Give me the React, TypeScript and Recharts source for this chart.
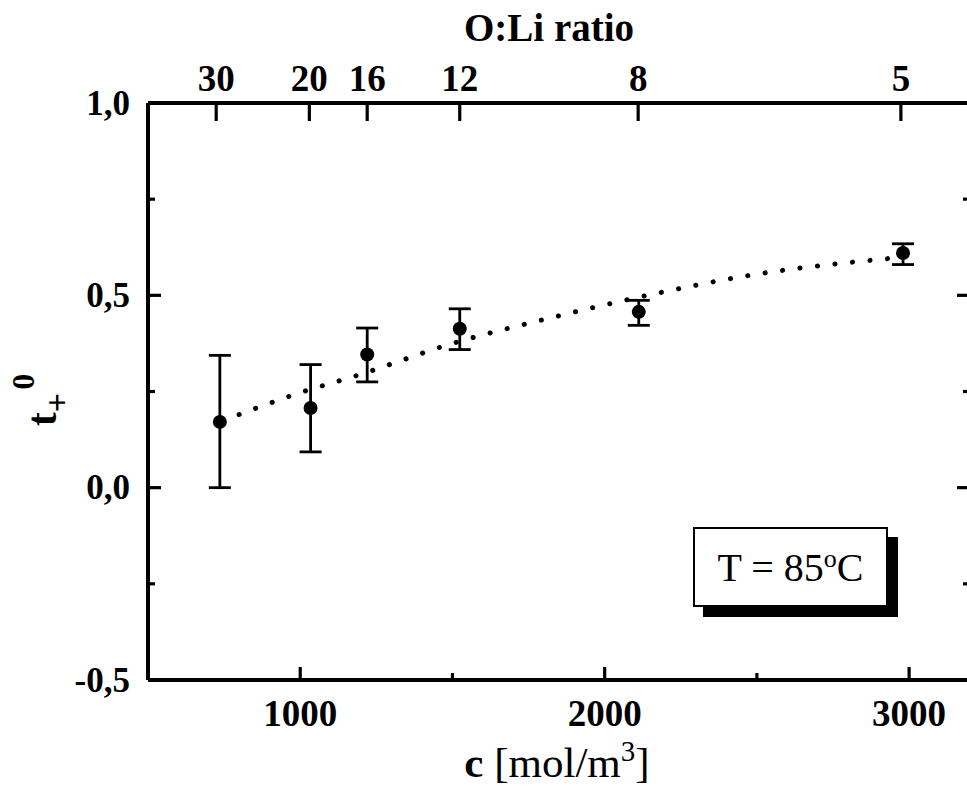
import React from 'react';
import { ComposedChart, Scatter, Line, XAxis, YAxis, ErrorBar } from 'recharts';

// measured points: concentration c [mol/m3] vs t+0
const concentration = [736, 1034, 1220, 1524, 2112, 2980];
const tPlus = [0.171, 0.207, 0.346, 0.413, 0.457, 0.61];
const errTop = [0.344, 0.32, 0.415, 0.465, 0.487, 0.634];
const errBottom = [0.0, 0.093, 0.275, 0.359, 0.422, 0.58];

// dotted fit curve
const fitC = [745, 1000, 1200, 1500, 1800, 2100, 2500, 2950];
const fitT = [0.174, 0.247, 0.295, 0.375, 0.437, 0.493, 0.555, 0.597];

// axes
const yTicks = [-0.5, -0.25, 0, 0.25, 0.5, 0.75, 1.0];
const yLabelTicks = [-0.5, 0, 0.5, 1.0];
const cTicks = [1000, 1500, 2000, 2500, 3000];
const cLabelTicks = [1000, 2000, 3000];
const ratioTickC = [724, 1030, 1220, 1524, 2110, 2973];
const ratioLabels = ['30', '20', '16', '12', '8', '5'];

const FONT = '"Liberation Serif", "Times New Roman", serif';
const AXIS_W = 4;

const points = concentration.map((c, i) => ({
  c,
  t: tPlus[i],
  err: [tPlus[i] - errBottom[i], errTop[i] - tPlus[i]],
}));
const fitData = fitC.map((c, i) => ({ c, t: fitT[i] }));

const fmt = (v: number) => v.toFixed(1).replace('.', ',');

const LeftTick = ({ x, y, payload }: any) => {
  const major = yLabelTicks.includes(payload.value);
  return (
    <g>
      <line x1={x} x2={x + (major ? 13 : 7)} y1={y} y2={y} stroke="#000" strokeWidth={3.2} />
      {major && (
        <text x={x - 18} y={y} textAnchor="end" dominantBaseline="central"
          fontFamily={FONT} fontWeight="bold" fontSize={35} fill="#000">
          {fmt(payload.value)}
        </text>
      )}
    </g>
  );
};

const RightTick = ({ x, y, payload }: any) => {
  const major = yLabelTicks.includes(payload.value);
  return <line x1={x} x2={x - (major ? 13 : 7)} y1={y} y2={y} stroke="#000" strokeWidth={3.2} />;
};

const BottomTick = ({ x, y, payload }: any) => {
  const major = cLabelTicks.includes(payload.value);
  return (
    <g>
      <line x1={x} x2={x} y1={y} y2={y - (major ? 13 : 7)} stroke="#000" strokeWidth={3.2} />
      {major && (
        <text x={x} y={y + 33} textAnchor="middle" dominantBaseline="central"
          fontFamily={FONT} fontWeight="bold" fontSize={37} fill="#000">
          {payload.value}
        </text>
      )}
    </g>
  );
};

const TopTick = ({ x, y, payload }: any) => {
  const label = ratioLabels[ratioTickC.indexOf(payload.value)];
  return (
    <g>
      <line x1={x} x2={x} y1={y} y2={y + 18} stroke="#000" strokeWidth={3.2} />
      <text x={x} y={y - 25} textAnchor="middle" dominantBaseline="central"
        fontFamily={FONT} fontWeight="bold" fontSize={37} fill="#000">
        {label}
      </text>
    </g>
  );
};

const Dot = ({ cx, cy }: any) => <circle cx={cx} cy={cy} r={7} fill="#000" />;

const App: React.FC = () => {
  return (
    <div style={{ position: 'absolute', left: 0, top: 0, width: 967, height: 790, overflow: 'hidden', background: '#fff', fontFamily: FONT }}>
      <ComposedChart width={980} height={790} margin={{ top: 102, right: 9, bottom: 109, left: 147 }}>
        <XAxis xAxisId="bottom" dataKey="c" type="number" domain={[500, 3200]} allowDataOverflow
          ticks={cTicks} interval={0} height={1} tickSize={0} tickMargin={0} tickLine={false}
          axisLine={{ stroke: '#000', strokeWidth: AXIS_W }} tick={<BottomTick />} />
        <XAxis xAxisId="top" orientation="top" dataKey="c" type="number" domain={[500, 3200]} allowDataOverflow
          ticks={ratioTickC} interval={0} height={1} tickSize={0} tickMargin={0} tickLine={false}
          axisLine={{ stroke: '#000', strokeWidth: AXIS_W }} tick={<TopTick />} />
        <YAxis yAxisId="left" type="number" domain={[-0.5, 1]} allowDataOverflow
          ticks={yTicks} interval={0} width={1} tickSize={0} tickMargin={0} tickLine={false}
          axisLine={{ stroke: '#000', strokeWidth: AXIS_W }} tick={<LeftTick />} />
        <YAxis yAxisId="right" orientation="right" type="number" domain={[-0.5, 1]} allowDataOverflow
          ticks={yTicks} interval={0} width={1} tickSize={0} tickMargin={0} tickLine={false}
          axisLine={{ stroke: '#000', strokeWidth: AXIS_W }} tick={<RightTick />} />
        <Line data={fitData} xAxisId="bottom" yAxisId="left" dataKey="t" type="monotone"
          stroke="#000" strokeWidth={5} strokeDasharray="0.1 17.5" strokeLinecap="round"
          dot={false} activeDot={false} isAnimationActive={false} />
        <Scatter data={points} xAxisId="bottom" yAxisId="left" dataKey="t" shape={<Dot />} isAnimationActive={false}>
          <ErrorBar dataKey="err" direction="y" width={11} stroke="#000" strokeWidth={2.8} isAnimationActive={false} />
        </Scatter>
      </ComposedChart>

      <div style={{ position: 'absolute', left: 549, top: 27, transform: 'translate(-50%, -50%)', fontSize: 39, fontWeight: 'bold', whiteSpace: 'nowrap' }}>
        O:Li ratio
      </div>

      <div style={{ position: 'absolute', left: 557, top: 762, transform: 'translate(-50%, -50%)', fontSize: 43, whiteSpace: 'nowrap' }}>
        <b>c</b> [mol/m<sup style={{ fontSize: 29, verticalAlign: 'super', lineHeight: 0 }}>3</sup>]
      </div>

      <div style={{ position: 'absolute', left: 42, top: 400, transform: 'translate(-50%, -50%) rotate(-90deg)', fontSize: 42, fontWeight: 'bold', whiteSpace: 'nowrap', lineHeight: 1 }}>
        t<span style={{ fontSize: 34, position: 'relative', top: 12 }}>+</span><span style={{ fontSize: 32, position: 'relative', top: -22, marginLeft: 3 }}>0</span>
      </div>

      <div style={{ position: 'absolute', left: 693, top: 527, width: 195, height: 80, boxSizing: 'border-box', border: '2px solid #000', background: '#fff', boxShadow: '10px 10px 0 #000', display: 'flex', alignItems: 'center', justifyContent: 'center', fontSize: 40, whiteSpace: 'nowrap' }}>
        <span>T = 85<sup style={{ fontSize: 26, lineHeight: 0, verticalAlign: 'super' }}>o</sup>C</span>
      </div>
    </div>
  );
};

export default App;
